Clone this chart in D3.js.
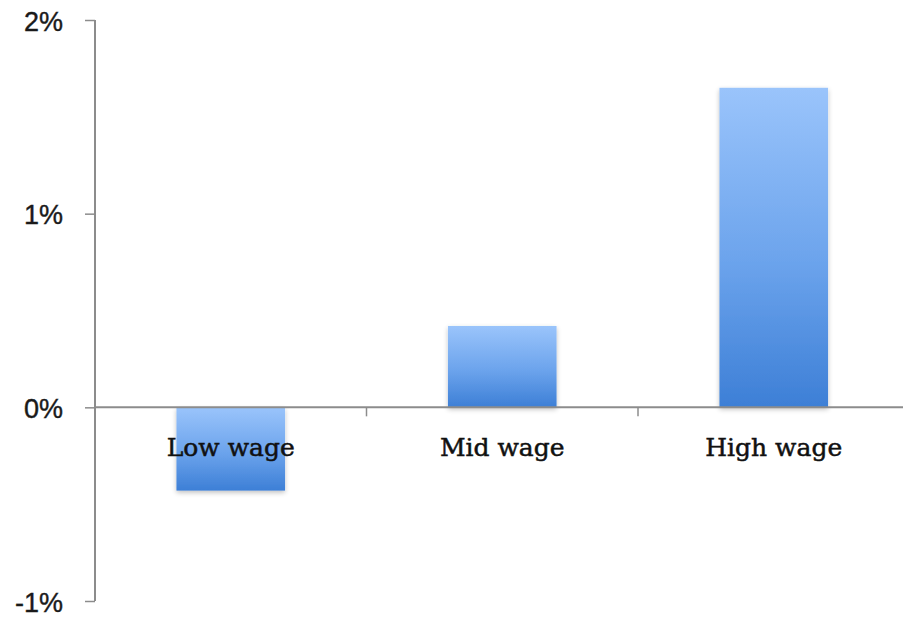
<!DOCTYPE html>
<html>
<head>
<meta charset="utf-8">
<script src="https://cdn.jsdelivr.net/npm/d3@7"></script>
<style>
  body { margin: 0; background: #fff; }
  svg { display: block; }
</style>
</head>
<body>
<div id="graph"></div>
<script>
// wage growth by group, percent
const categories = ["Low wage", "Mid wage", "High wage"];
const values = [-0.43, 0.42, 1.65];
const yTicks = [-1, 0, 1, 2];

let svg = d3.select("#graph").append("svg")
  .attr("width", 903)
  .attr("height", 618);

let defs = svg.append("defs");
let grad = defs.append("linearGradient")
  .attr("id", "barGrad")
  .attr("x1", 0).attr("y1", 0)
  .attr("x2", 0).attr("y2", 1);
grad.append("stop").attr("offset", "0%").attr("stop-color", "#9ac4fb");
grad.append("stop").attr("offset", "55%").attr("stop-color", "#6ba3ec");
grad.append("stop").attr("offset", "100%").attr("stop-color", "#3d7fd6");

let shadow = defs.append("filter").attr("id", "soft")
  .attr("x", "-10%").attr("y", "-10%").attr("width", "120%").attr("height", "120%");
shadow.append("feGaussianBlur").attr("in", "SourceAlpha").attr("stdDeviation", 2.5).attr("result", "b");
shadow.append("feOffset").attr("dy", 2).attr("result", "o");
shadow.append("feComponentTransfer").append("feFuncA").attr("type", "linear").attr("slope", 0.25);
let merge = shadow.append("feMerge");
merge.append("feMergeNode");
merge.append("feMergeNode").attr("in", "SourceGraphic");

let yScale = d3.scaleLinear()
  .domain([-1, 2])
  .range([601, 20]);

let xScale = d3.scaleBand()
  .domain(categories)
  .range([95, 909.5])
  .padding(0);

// bars
let bw = xScale.bandwidth() * 0.4;
svg.selectAll("rect.bar")
  .data(values)
  .enter()
  .append("rect")
  .attr("class", "bar")
  .attr("fill", "url(#barGrad)")
  .attr("filter", "url(#soft)")
  .attr("x", function (d, i) {
    return xScale(categories[i]) + (xScale.bandwidth() - bw) / 2;
  })
  .attr("y", function (d) { return yScale(Math.max(0, d)); })
  .attr("width", bw)
  .attr("height", function (d) {
    return Math.abs(yScale(d) - yScale(0));
  });

// y axis
let yAxis = d3.axisLeft(yScale)
  .tickValues(yTicks)
  .tickSize(10)
  .tickPadding(22)
  .tickFormat(function (d) { return d + "%"; });

let gy = svg.append("g")
  .attr("transform", "translate(95,0)")
  .call(yAxis);
gy.select(".domain").attr("stroke", "#8c8c8c").attr("stroke-width", 2)
  .attr("d", "M0," + yScale(2) + "V" + yScale(-1));
gy.selectAll(".tick line").attr("stroke", "#8c8c8c").attr("stroke-width", 1.5);
gy.selectAll(".tick text")
  .attr("font-family", "'Liberation Sans', Arial, sans-serif")
  .attr("font-size", 27)
  .attr("fill", "#1a1a1a")
  .attr("stroke", "#1a1a1a")
  .attr("stroke-width", 0.4)
  .attr("dy", "0.38em");

// x axis along zero
let xAxis = d3.axisBottom(xScale).tickSize(0).tickFormat("");
let gx = svg.append("g")
  .attr("transform", "translate(0," + yScale(0) + ")")
  .call(xAxis);
gx.select(".domain").attr("stroke", "#8c8c8c").attr("stroke-width", 2)
  .attr("d", "M95,0H903");
gx.selectAll(".tick").remove();

// boundary tick marks between categories
svg.selectAll("line.sep")
  .data(categories.slice(1))
  .enter()
  .append("line")
  .attr("class", "sep")
  .attr("x1", function (d) { return xScale(d); })
  .attr("x2", function (d) { return xScale(d); })
  .attr("y1", yScale(0))
  .attr("y2", yScale(0) + 9)
  .attr("stroke", "#8c8c8c")
  .attr("stroke-width", 1.5);

// category labels
svg.selectAll("text.cat")
  .data(categories)
  .enter()
  .append("text")
  .attr("class", "cat")
  .attr("x", function (d) { return xScale(d) + xScale.bandwidth() / 2; })
  .attr("y", 456)
  .attr("text-anchor", "middle")
  .attr("font-family", "'DejaVu Serif', serif")
  .attr("font-size", 25)
  .attr("fill", "#111")
  .attr("stroke", "#111")
  .attr("stroke-width", 0.5)
  .text(function (d) { return d; });
</script>
</body>
</html>
